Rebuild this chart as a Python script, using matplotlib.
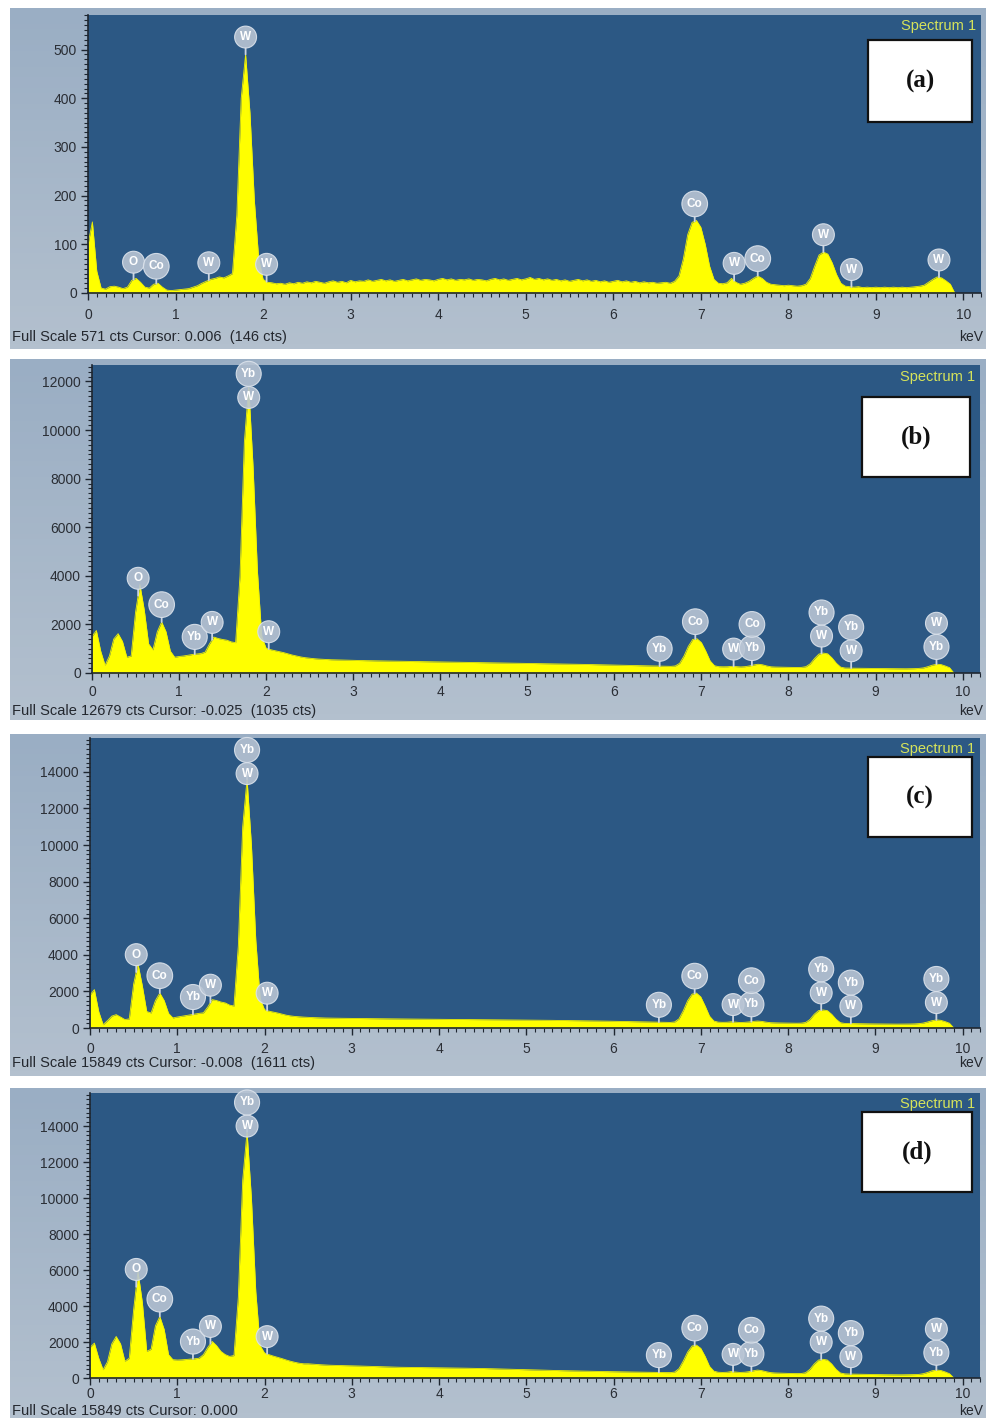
import numpy as np
import matplotlib
matplotlib.use("Agg")
import matplotlib.pyplot as plt
from matplotlib.ticker import MultipleLocator
from matplotlib.patches import Rectangle

plt.rcParams['font.family'] = ['Liberation Sans', 'DejaVu Sans']

# ---------------- data ----------------
energy_keV = np.round(np.arange(0, 9.9001, 0.05), 2)   # channel energies (199 channels)

counts_a = [
    100, 146, 45, 10, 8, 13, 14, 12, 9, 12,
    26, 30, 22, 12, 10, 18, 20, 12, 6, 5,
    6, 7, 8, 9, 12, 15, 20, 24, 28, 30,
    33, 31, 35, 40, 160, 400, 490, 370, 190, 70,
    28, 22, 21, 19, 20, 18, 21, 19, 22, 20,
    23, 21, 24, 22, 20, 23, 25, 22, 24, 21,
    26, 23, 25, 24, 27, 24, 26, 28, 25, 27,
    24, 26, 28, 25, 27, 29, 26, 28, 27, 25,
    28, 30, 27, 29, 26, 28, 27, 29, 26, 28,
    27, 25, 28, 30, 27, 29, 26, 28, 30, 27,
    29, 32, 28, 30, 27, 29, 26, 28, 25, 27,
    24, 26, 28, 25, 27, 24, 26, 23, 25, 22,
    24, 26, 23, 25, 22, 24, 21, 23, 21, 22,
    20, 21, 22, 20, 24, 35, 70, 120, 145, 149,
    135, 100, 55, 28, 20, 19, 21, 30, 22, 18,
    20, 24, 30, 35, 30, 22, 18, 17, 16, 15,
    16, 15, 14, 15, 18, 30, 55, 78, 84, 80,
    62, 38, 20, 14, 13, 12, 13, 11, 12, 11,
    12, 11, 12, 11, 12, 11, 12, 11, 12, 13,
    14, 16, 22, 28, 33, 31, 25, 18, 0,
]

counts_b = [
    1500, 1750, 900, 320, 700, 1400, 1620, 1300, 650, 700,
    2500, 3640, 2600, 1200, 950, 1700, 2100, 1700, 900, 650,
    680, 700, 730, 760, 780, 800, 860, 1200, 1480, 1420,
    1380, 1350, 1280, 1250, 4000, 9500, 11800, 8500, 4200, 1500,
    1020, 960, 920, 880, 840, 790, 740, 700, 660, 630,
    610, 590, 575, 565, 555, 545, 540, 535, 530, 525,
    520, 515, 512, 508, 505, 500, 497, 494, 490, 487,
    484, 481, 478, 475, 472, 470, 467, 464, 461, 458,
    455, 452, 449, 446, 443, 440, 437, 434, 431, 428,
    425, 422, 419, 416, 413, 410, 407, 404, 401, 398,
    395, 392, 389, 386, 383, 380, 377, 374, 371, 368,
    365, 362, 358, 354, 350, 346, 342, 338, 334, 330,
    325, 320, 316, 312, 308, 304, 300, 296, 292, 288,
    284, 280, 277, 274, 290, 400, 700, 1100, 1380, 1410,
    1250, 900, 500, 300, 260, 255, 258, 275, 262, 250,
    260, 290, 330, 360, 340, 290, 255, 245, 240, 236,
    233, 230, 228, 232, 260, 380, 600, 780, 820, 790,
    620, 400, 240, 205, 200, 198, 195, 192, 190, 188,
    186, 184, 182, 180, 178, 176, 175, 174, 176, 180,
    190, 210, 260, 320, 360, 350, 290, 220, 0,
]

counts_c = [
    1800, 2100, 900, 180, 400, 650, 730, 600, 460, 500,
    2400, 3500, 2300, 900, 820, 1500, 1910, 1500, 800, 550,
    600, 640, 680, 720, 760, 800, 830, 1150, 1550, 1500,
    1420, 1370, 1250, 1200, 4500, 11000, 13600, 10000, 4800, 1600,
    1000, 920, 870, 820, 760, 700, 660, 630, 610, 595,
    580, 570, 560, 552, 545, 540, 536, 533, 530, 528,
    525, 522, 519, 516, 513, 510, 507, 504, 501, 498,
    496, 494, 492, 490, 488, 486, 484, 482, 480, 478,
    476, 474, 472, 470, 468, 466, 464, 462, 460, 458,
    456, 454, 452, 450, 448, 446, 444, 442, 440, 438,
    436, 433, 430, 427, 424, 421, 418, 415, 412, 409,
    406, 403, 400, 396, 392, 388, 384, 380, 376, 372,
    368, 364, 360, 355, 350, 345, 340, 335, 330, 325,
    320, 315, 310, 305, 330, 500, 950, 1500, 1850, 1910,
    1700, 1200, 650, 380, 320, 310, 315, 340, 320, 300,
    310, 330, 360, 380, 360, 320, 290, 280, 275, 270,
    265, 262, 260, 265, 300, 460, 750, 950, 985, 950,
    750, 480, 290, 250, 245, 240, 236, 232, 228, 225,
    222, 220, 218, 216, 214, 212, 212, 214, 218, 225,
    240, 270, 330, 400, 440, 420, 350, 260, 0,
]

counts_d = [
    1700, 1940, 1100, 460, 900, 1900, 2310, 1900, 930, 1100,
    3800, 5920, 4200, 1480, 1600, 2900, 3420, 2700, 1300, 1020,
    1000, 1010, 1030, 1050, 1070, 1100, 1300, 1700, 2035, 1800,
    1480, 1300, 1200, 1250, 4500, 11000, 13700, 10000, 4800, 1800,
    1390, 1300, 1220, 1150, 1080, 1000, 930, 870, 820, 790,
    790, 770, 750, 735, 720, 710, 700, 695, 690, 685,
    680, 672, 664, 656, 648, 640, 632, 624, 616, 608,
    600, 597, 594, 591, 588, 585, 582, 579, 576, 573,
    570, 566, 562, 558, 554, 550, 546, 542, 538, 534,
    530, 523, 516, 509, 502, 495, 488, 481, 474, 467,
    460, 453, 446, 440, 434, 428, 422, 416, 410, 404,
    398, 393, 388, 383, 378, 373, 368, 363, 358, 354,
    350, 346, 342, 338, 334, 330, 326, 322, 318, 314,
    310, 306, 302, 300, 330, 520, 950, 1450, 1780, 1830,
    1650, 1200, 650, 380, 320, 310, 320, 360, 330, 310,
    320, 350, 400, 440, 410, 350, 300, 280, 270, 262,
    256, 250, 246, 250, 290, 480, 780, 1000, 1040, 1000,
    780, 480, 280, 230, 220, 215, 210, 205, 200, 196,
    192, 188, 185, 182, 180, 178, 178, 180, 184, 190,
    200, 240, 310, 400, 440, 420, 340, 240, 0,
]

full_scale = [571, 12679, 15849, 15849]
y_major = [100, 2000, 2000, 2000]
y_minor = [10, 200, 250, 250]
x_ticks = list(range(0, 11))
panel_tags = ["(a)", "(b)", "(c)", "(d)"]
footers = [
    "Full Scale 571 cts Cursor: 0.006  (146 cts)",
    "Full Scale 12679 cts Cursor: -0.025  (1035 cts)",
    "Full Scale 15849 cts Cursor: -0.008  (1611 cts)",
    "Full Scale 15849 cts Cursor: 0.000",
]

labels_a = [(0.52, ["O"]), (0.78, ["Co"]), (1.38, ["W"]), (1.80, ["W"]),
            (2.04, ["W"]), (6.93, ["Co"]), (7.38, ["W"]), (7.65, ["Co"]),
            (8.40, ["W"]), (8.72, ["W"]), (9.72, ["W"])]
labels_bd = [(0.53, ["O"]), (0.80, ["Co"]), (1.18, ["Yb"]), (1.38, ["W"]),
             (1.80, ["W", "Yb"]), (2.03, ["W"]), (6.52, ["Yb"]), (6.93, ["Co"]),
             (7.37, ["W"]), (7.58, ["Yb", "Co"]), (8.38, ["W", "Yb"]),
             (8.72, ["W", "Yb"]), (9.70, ["Yb", "W"])]
labels_c = labels_bd[:-1] + [(9.70, ["W", "Yb"])]

spectra = [counts_a, counts_b, counts_c, counts_d]
label_sets = [labels_a, labels_bd, labels_c, labels_bd]

# ---------------- layout (figure pixels) ----------------
W, H = 988, 1418
fig = plt.figure(figsize=(W / 100, H / 100), dpi=100)
fig.patch.set_facecolor("white")

frames = [(10, 8, 985, 349), (10, 359, 985, 720), (10, 734, 985, 1076), (10, 1088, 985, 1418)]
plots = [(88, 15, 981, 293), (92, 365, 980, 673), (90, 738, 980, 1028), (90, 1093, 980, 1378)]
tag_boxes = [(868, 40, 972, 122), (862, 397, 970, 477), (868, 757, 972, 837), (862, 1112, 972, 1192)]
footer_y = [337, 711, 1063, 1411]
xpad = [6, 4, 5, 1.5]
main_badge_base = [12.5, -8.0, 4.0, 4.0]   # badge offset (pt) over the tallest peak


def fig_rect(x0, y0, x1, y1):
    return [x0 / W, 1 - y1 / H, (x1 - x0) / W, (y1 - y0) / H]


PLOT_BG = "#2C5884"
YELLOW = "#FFFF00"
BADGE_FC = "#B9C5D4"
frame_cmap = matplotlib.colors.LinearSegmentedColormap.from_list("fr", ["#9AAEC4", "#B3C0CE"])

for i in range(4):
    fx0, fy0, fx1, fy1 = frames[i]
    bg = fig.add_axes(fig_rect(fx0, fy0, fx1, fy1))
    grad = np.linspace(0, 1, 64).reshape(-1, 1)
    bg.imshow(grad, aspect="auto", cmap=frame_cmap, extent=[0, 1, 0, 1], origin="upper")
    bg.set_axis_off()

    px0, py0, px1, py1 = plots[i]
    ax = fig.add_axes(fig_rect(px0, py0, px1, py1))
    ax.set_facecolor(PLOT_BG)
    spec = np.array(spectra[i], dtype=float)
    ax.fill_between(energy_keV, spec, 0, color=YELLOW, lw=0, zorder=2)
    ax.plot(energy_keV, spec, color="#F2F200", lw=0.6, zorder=2)
    ax.set_xlim(0, 10.2)
    ax.set_xticks(x_ticks)
    ax.xaxis.set_minor_locator(MultipleLocator(0.1))
    ymax_tick = (full_scale[i] // y_major[i]) * y_major[i]
    ax.set_yticks(np.arange(0, ymax_tick + 1, y_major[i]))
    ax.yaxis.set_minor_locator(MultipleLocator(y_minor[i]))
    ax.set_ylim(0, full_scale[i])
    for s in ["top", "right"]:
        ax.spines[s].set_visible(False)
    for s in ["left", "bottom"]:
        ax.spines[s].set_color("#1E2630")
        ax.spines[s].set_linewidth(1.2)
    ax.tick_params(axis="both", which="major", direction="out", length=5, width=1,
                   color="#1E2630", labelsize=10, labelcolor="#2A2E35", pad=3)
    ax.tick_params(axis="both", which="minor", direction="out", length=3, width=0.8,
                   color="#1E2630")
    ax.tick_params(axis="x", pad=xpad[i])

    ax.text(0.995, 0.985, "Spectrum 1", transform=ax.transAxes, ha="right", va="top",
            fontsize=10.5, color="#D6E35A")

    # element badges
    main_peak = float(np.max(spec))
    for e, stack in label_sets[i]:
        tip = float(np.interp(e, energy_keV, spec))
        base = 12.5
        if tip > 0.5 * main_peak:
            base = main_badge_base[i]
        for k, name in enumerate(stack):
            off = base + 17.0 * k
            ax.annotate(name, xy=(e, tip), xytext=(0, off), textcoords="offset points",
                        ha="center", va="center", fontsize=8.5, fontweight="bold",
                        color="white", zorder=5, annotation_clip=False,
                        bbox=dict(boxstyle="circle,pad=0.42", fc=BADGE_FC, ec="#DCE3EC",
                                  lw=0.8, alpha=0.9),
                        arrowprops=(dict(arrowstyle="-", color="#CBD4E0", lw=1.3,
                                         shrinkA=0, shrinkB=0) if (k == 0 and base > 0) else None))

    # panel tag box
    tx0, ty0, tx1, ty1 = tag_boxes[i]
    fig.patches.append(Rectangle((tx0 / W, 1 - ty1 / H), (tx1 - tx0) / W, (ty1 - ty0) / H,
                                 transform=fig.transFigure, fc="white", ec="#111111",
                                 lw=1.6, zorder=10))
    fig.text((tx0 + tx1) / 2 / W, 1 - (ty0 + ty1) / 2 / H, panel_tags[i],
             ha="center", va="center", fontsize=18, fontweight="bold",
             family=["Liberation Serif", "DejaVu Serif"], color="#111111", zorder=11)

    # footer
    fig.text(12 / W, 1 - footer_y[i] / H, footers[i], ha="left", va="center",
             fontsize=10.5, color="#23272E")
    fig.text(983 / W, 1 - footer_y[i] / H, "keV", ha="right", va="center",
             fontsize=10, color="#23272E")

fig.savefig("out.png", dpi=100, facecolor="white")
